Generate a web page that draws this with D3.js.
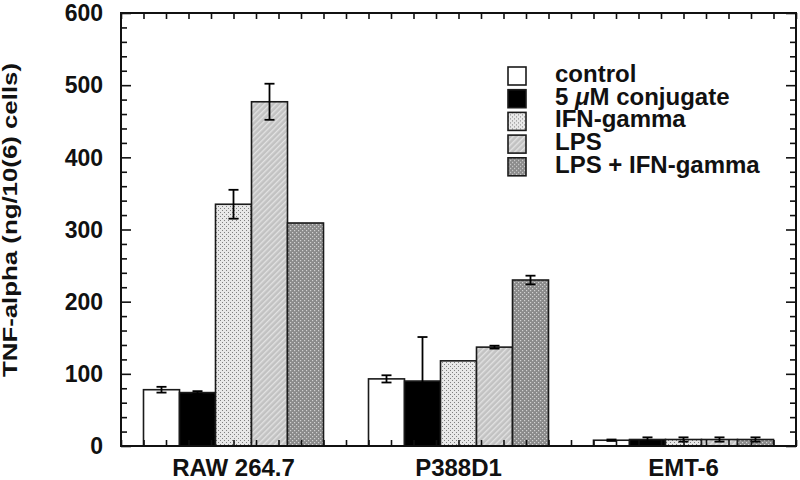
<!DOCTYPE html>
<html>
<head>
<meta charset="utf-8">
<script src="https://cdn.jsdelivr.net/npm/d3@7"></script>
<style>
  html, body { margin: 0; padding: 0; background: #fff; }
  text { font-family: "Liberation Sans", Arial, Helvetica, sans-serif; font-weight: bold; fill: #111; }
</style>
</head>
<body>
<svg id="chart" width="800" height="480"></svg>
<script>
// ---- data ----
const categories = ["RAW 264.7", "P388D1", "EMT-6"];
const categoryCenters = [5, 15, 25];
const seriesNames = ["control", "5 μM conjugate", "IFN-gamma", "LPS", "LPS + IFN-gamma"];
const controlValues   = [78, 93, 8];
const controlErrors   = [4, 5, 1];
const conjugateValues = [74, 90, 9];
const conjugateErrors = [2, 61, 3];
const ifnValues       = [335, 118, 9];
const ifnErrors       = [20, 0, 3];
const lpsValues       = [477, 137, 9];
const lpsErrors       = [25, 2, 3];
const lpsIfnValues    = [309, 230, 9];
const lpsIfnErrors    = [0, 6, 3];
const yTicks = [0, 100, 200, 300, 400, 500, 600];
const yLabel = "TNF-alpha (ng/10(6) cells)";

const seriesValues = [controlValues, conjugateValues, ifnValues, lpsValues, lpsIfnValues];
const seriesErrors = [controlErrors, conjugateErrors, ifnErrors, lpsErrors, lpsIfnErrors];
const seriesFills = ["#ffffff", "#000000", "url(#pIfn)", "url(#pLps)", "url(#pLpsIfn)"];

// ---- layout ----
const svg = d3.select("#chart");
const mLeft = 121, mRight = 796, mTop = 13, mBottom = 446;
const x = d3.scaleLinear().domain([0, 30]).range([mLeft, mRight]);
const y = d3.scaleLinear().domain([0, 600]).range([mBottom, mTop]);
const inner = d3.scaleBand().domain(d3.range(seriesNames.length)).range([-4, 4]).padding(0);

// ---- patterns ----
const defs = svg.append("defs");
const pIfn = defs.append("pattern").attr("id", "pIfn").attr("patternUnits", "userSpaceOnUse")
  .attr("width", 4).attr("height", 4);
pIfn.append("rect").attr("width", 4).attr("height", 4).attr("fill", "#e8e8e8");
pIfn.append("rect").attr("x", 0).attr("y", 0).attr("width", 1).attr("height", 1).attr("fill", "#808080");
pIfn.append("rect").attr("x", 2).attr("y", 2).attr("width", 1).attr("height", 1).attr("fill", "#808080");

const pLps = defs.append("pattern").attr("id", "pLps").attr("patternUnits", "userSpaceOnUse")
  .attr("width", 4).attr("height", 4).attr("patternTransform", "rotate(45)");
pLps.append("rect").attr("width", 4).attr("height", 4).attr("fill", "#c2c2c2");
pLps.append("rect").attr("x", 0).attr("y", 0).attr("width", 1.4).attr("height", 4).attr("fill", "#e2e2e2");

const pLpsIfn = defs.append("pattern").attr("id", "pLpsIfn").attr("patternUnits", "userSpaceOnUse")
  .attr("width", 4).attr("height", 4);
pLpsIfn.append("rect").attr("width", 4).attr("height", 4).attr("fill", "#8a8a8a");
pLpsIfn.append("rect").attr("x", 0).attr("y", 0).attr("width", 1.2).attr("height", 1.2).attr("fill", "#d2d2d2");
pLpsIfn.append("rect").attr("x", 2).attr("y", 2).attr("width", 1.2).attr("height", 1.2).attr("fill", "#d2d2d2");

// ---- bars ----
const barData = [];
seriesValues.forEach((vals, s) => {
  vals.forEach((v, c) => {
    barData.push({ s, c, v, e: seriesErrors[s][c] });
  });
});

const bw = x(inner.bandwidth()) - x(0);
svg.append("g").selectAll("rect").data(barData).join("rect")
  .attr("x", d => x(categoryCenters[d.c] + inner(d.s)))
  .attr("y", d => y(d.v))
  .attr("width", bw)
  .attr("height", d => y(0) - y(d.v))
  .attr("fill", d => seriesFills[d.s])
  .attr("stroke", "#1a1a1a")
  .attr("stroke-width", 1.6);

// ---- error bars ----
const errG = svg.append("g").attr("stroke", "#000").attr("stroke-width", 1.8);
barData.filter(d => d.e > 0).forEach(d => {
  const cx = x(categoryCenters[d.c] + inner(d.s) + inner.bandwidth() / 2);
  errG.append("line").attr("x1", cx).attr("x2", cx).attr("y1", y(d.v + d.e)).attr("y2", y(d.v - d.e));
  [d.v + d.e, d.v - d.e].forEach(t => {
    errG.append("line").attr("x1", cx - 5).attr("x2", cx + 5).attr("y1", y(t)).attr("y2", y(t));
  });
});

// ---- axes ----
const minorY = d3.range(0, 601, 20).filter(v => v % 100 !== 0);
const xTicks = d3.range(0, 31, 1);

svg.append("g").attr("transform", `translate(${mLeft},0)`)
  .call(d3.axisRight(y).tickValues(yTicks).tickSize(10).tickFormat(""))
  .call(g => g.select(".domain").remove());
svg.append("g").attr("transform", `translate(${mLeft},0)`)
  .call(d3.axisRight(y).tickValues(minorY).tickSize(6).tickFormat(""))
  .call(g => g.select(".domain").remove());
svg.append("g").attr("transform", `translate(${mRight},0)`)
  .call(d3.axisLeft(y).tickValues(yTicks).tickSize(10).tickFormat(""))
  .call(g => g.select(".domain").remove());
svg.append("g").attr("transform", `translate(${mRight},0)`)
  .call(d3.axisLeft(y).tickValues(minorY).tickSize(6).tickFormat(""))
  .call(g => g.select(".domain").remove());
svg.append("g").attr("transform", `translate(0,${mBottom})`)
  .call(d3.axisTop(x).tickValues(xTicks).tickSize(6).tickFormat(""))
  .call(g => g.select(".domain").remove());
svg.append("g").attr("transform", `translate(0,${mTop})`)
  .call(d3.axisBottom(x).tickValues(xTicks).tickSize(6).tickFormat(""))
  .call(g => g.select(".domain").remove());
svg.selectAll(".tick line").attr("stroke", "#111").attr("stroke-width", 1.6);

// frame
svg.append("rect").attr("x", mLeft).attr("y", mTop).attr("width", mRight - mLeft).attr("height", mBottom - mTop)
  .attr("fill", "none").attr("stroke", "#111").attr("stroke-width", 2);

// y tick labels
svg.append("g").selectAll("text").data(yTicks).join("text")
  .attr("x", mLeft - 18).attr("y", d => y(d)).attr("dy", "0.36em")
  .attr("text-anchor", "end").style("font-size", "23px")
  .text(d => d);

// category labels
svg.append("g").selectAll("text").data(categories).join("text")
  .attr("x", (d, i) => x(categoryCenters[i])).attr("y", 476)
  .attr("text-anchor", "middle").style("font-size", "24px")
  .text(d => d);

// y label
svg.append("text")
  .attr("transform", "translate(17,220) rotate(-90)")
  .attr("text-anchor", "middle").style("font-size", "20px")
  .attr("textLength", 314).attr("lengthAdjust", "spacingAndGlyphs")
  .text(yLabel);

// ---- legend ----
const leg = svg.append("g").attr("transform", "translate(508,67)");
const rowH = 22.7;
const items = leg.selectAll("g").data(seriesNames).join("g")
  .attr("transform", (d, i) => `translate(0,${i * rowH})`);
items.append("rect").attr("width", 18).attr("height", 18)
  .attr("fill", (d, i) => seriesFills[i]).attr("stroke", "#1a1a1a").attr("stroke-width", 1.6);
items.append("text").attr("x", 47).attr("y", 15).style("font-size", "24px")
  .each(function(d) {
    const t = d3.select(this);
    if (d.includes("μ")) {
      const parts = d.split("μ");
      t.append("tspan").text(parts[0]);
      t.append("tspan").style("font-style", "italic").text("μ");
      t.append("tspan").text(parts[1]);
    } else {
      t.text(d);
    }
  });
</script>
</body>
</html>
